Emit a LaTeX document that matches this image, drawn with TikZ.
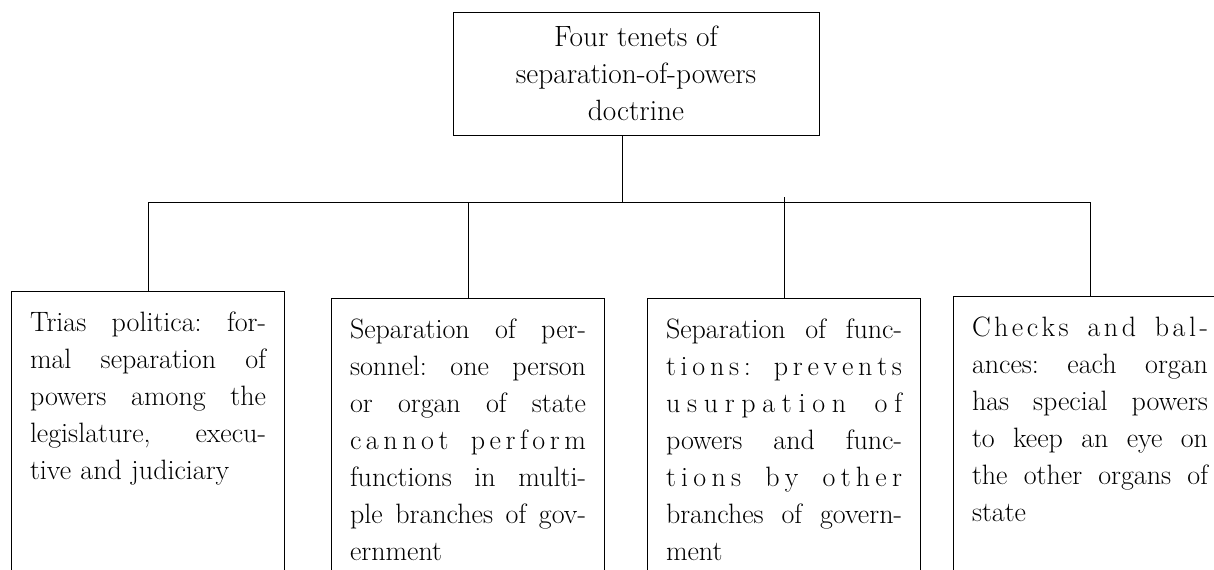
\documentclass[tikz,border=0pt]{standalone}
\usepackage{fontspec}

\newcommand{\fullline}[1]{\makebox[177pt][s]{\frenchspacing\spaceskip=0pt\xspaceskip=0pt #1}}

\tikzset{
  headbox/.style={draw, minimum width=274.5pt, minimum height=92.25pt, align=center, inner sep=0pt,
    font=\fontsize{22}{27.75}\selectfont},
  tenet/.style={draw, anchor=north, text width=177pt, inner xsep=13.9pt, inner ysep=15.3pt,
    text height=14.7pt, text depth=250pt, align=left},
}

\begin{document}
\begin{tikzpicture}[x=0.75pt,y=0.75pt,yscale=-1,xscale=1,line width=0.6pt,
  every node/.style={font=\fontsize{21}{27.75}\selectfont}]
\useasboundingbox (0,0) rectangle (1214,569);
\clip (0,0) rectangle (1214,569);

% Text Node
\node [headbox] (tenets) at (636,73.5) {Four tenets of\\separation-of-powers\\doctrine};

% Text Node
\node [tenet] (trias) at (148,291) {\fullline{Trias politica: for-}\\
\fullline{mal separation of}\\
\fullline{powers among the}\\
\fullline{legislature, execu-}\\
tive and judiciary};

% Text Node
\node [tenet] (personnel) at (468,298) {\fullline{Separation of per-}\\
\fullline{sonnel: one person}\\
\fullline{or organ of state}\\
\fullline{c\hfil a\hfil n\hfil n\hfil o\hfil t\hfil\hfil\hfil\ p\hfil e\hfil r\hfil f\hfil o\hfil r\hfil m}\\
\fullline{functions in multi-}\\
\fullline{ple branches of gov-}\\
ernment};

% Text Node
\node [tenet] (functions) at (784,298) {\fullline{Separation of func-}\\
\fullline{t\hfil i\hfil o\hfil n\hfil s\hfil :\hfil\hfil\hfil\ p\hfil r\hfil e\hfil v\hfil e\hfil n\hfil t\hfil s}\\
\fullline{u\hfil s\hfil u\hfil r\hfil p\hfil a\hfil t\hfil i\hfil o\hfil n\hfil\hfil\hfil\ o\hfil f}\\
\fullline{powers and func-}\\
\fullline{t\hfil i\hfil o\hfil n\hfil s\hfil\hfil\hfil\ b\hfil y\hfil\hfil\hfil\ o\hfil t\hfil h\hfil e\hfil r}\\
\fullline{branches of govern-}\\
ment};

% Text Node
\node [tenet] (checks) at (1090,296) {\fullline{C\hfil h\hfil e\hfil c\hfil k\hfil s\hfil\hfil\hfil\ a\hfil n\hfil d\hfil\hfil\hfil\ b\hfil a\hfil l\hfil -}\\
\fullline{ances: each organ}\\
\fullline{has special powers}\\
\fullline{to keep an eye on}\\
\fullline{the other organs of}\\
state};

%Straight Lines
\coordinate (hub) at (622,202);
\coordinate (tick) at (787,197);
\draw (tenets.south -| hub) -- (hub);
\draw (trias.north) -- (trias.north |- hub) -- (checks.north |- hub) -- (checks.north);
\draw (personnel.north) -- (personnel.north |- hub);
\draw (functions.north) -- (functions.north |- tick);

\end{tikzpicture}
\end{document}
